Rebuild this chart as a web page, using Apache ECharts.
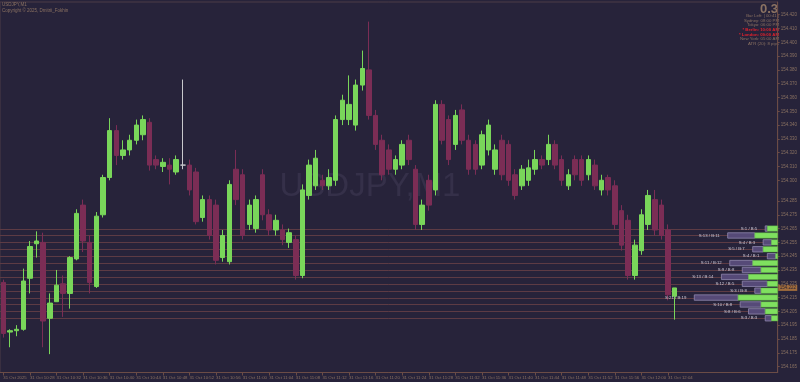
<!DOCTYPE html>
<html>
<head>
<meta charset="utf-8">
<script src="https://cdn.jsdelivr.net/npm/echarts@6/dist/echarts.min.js"></script>
<style>html,body{margin:0;padding:0;background:#27233a;}#c{width:800px;height:382px;}</style>
</head>
<body>
<div id="c"></div>
<script>
// ---- data ----
const opens = [154.226,154.190,154.191,154.192,154.229,154.254,154.255,154.200,154.212,154.225,154.218,154.243,154.282,154.255,154.223,154.275,154.302,154.336,154.318,154.322,154.329,154.333,154.342,154.315,154.310,154.311,154.306,154.311,154.311,154.306,154.273,154.286,154.282,154.244,154.241,154.308,154.304,154.268,154.265,154.304,154.275,154.264,154.264,154.255,154.257,154.231,154.289,154.296,154.300,154.296,154.300,154.344,154.344,154.340,154.369,154.380,154.347,154.329,154.322,154.308,154.311,154.329,154.308,154.268,154.300,154.293,154.355,154.344,154.326,154.351,154.329,154.326,154.311,154.322,154.308,154.329,154.326,154.304,154.296,154.300,154.308,154.315,154.315,154.326,154.315,154.296,154.315,154.315,154.304,154.311,154.293,154.302,154.296,154.278,154.271,154.231,154.249,154.268,154.286,154.282,154.264,154.216];
const closes = [154.189,154.191,154.192,154.227,154.252,154.256,154.198,154.211,154.224,154.218,154.244,154.276,154.256,154.226,154.274,154.302,154.336,154.318,154.322,154.329,154.340,154.344,154.311,154.311,154.313,154.308,154.315,154.311,154.293,154.270,154.286,154.260,154.242,154.260,154.297,154.286,154.260,154.282,154.286,154.275,154.264,154.271,154.257,154.262,154.231,154.293,154.311,154.316,154.296,154.302,154.344,154.358,154.355,154.369,154.381,154.347,154.326,154.304,154.308,154.315,154.326,154.315,154.268,154.282,154.282,154.355,154.329,154.315,154.347,154.329,154.308,154.308,154.333,154.340,154.322,154.304,154.300,154.289,154.308,154.309,154.315,154.311,154.326,154.311,154.300,154.304,154.304,154.300,154.315,154.296,154.300,154.293,154.268,154.253,154.231,154.253,154.275,154.289,154.264,154.260,154.217,154.222];
const lows = [154.186,154.179,154.187,154.191,154.218,154.244,154.179,154.174,154.212,154.201,154.207,154.242,154.248,154.218,154.222,154.273,154.300,154.311,154.315,154.318,154.326,154.329,154.307,154.308,154.306,154.297,154.304,154.308,154.289,154.268,154.270,154.257,154.239,154.241,154.239,154.282,154.257,154.264,154.262,154.271,154.260,154.260,154.253,154.251,154.228,154.229,154.286,154.293,154.293,154.293,154.296,154.340,154.340,154.336,154.365,154.344,154.322,154.300,154.304,154.304,154.308,154.311,154.264,154.264,154.278,154.289,154.326,154.311,154.322,154.326,154.304,154.304,154.308,154.318,154.304,154.300,154.296,154.286,154.293,154.296,154.304,154.308,154.311,154.308,154.296,154.293,154.300,154.296,154.300,154.293,154.289,154.289,154.264,154.249,154.228,154.228,154.246,154.264,154.260,154.257,154.213,154.199];
const highs = [154.228,154.192,154.195,154.236,154.256,154.263,154.262,154.218,154.235,154.231,154.245,154.279,154.286,154.260,154.277,154.304,154.345,154.340,154.329,154.333,154.344,154.347,154.345,154.318,154.316,154.316,154.318,154.373,154.315,154.309,154.289,154.289,154.286,154.264,154.300,154.322,154.308,154.286,154.289,154.308,154.279,154.275,154.268,154.265,154.260,154.297,154.315,154.322,154.304,154.308,154.347,154.362,154.376,154.373,154.394,154.415,154.351,154.333,154.326,154.318,154.329,154.333,154.311,154.286,154.304,154.358,154.358,154.347,154.351,154.355,154.333,154.329,154.336,154.344,154.326,154.333,154.329,154.308,154.311,154.315,154.322,154.318,154.333,154.329,154.318,154.308,154.318,154.318,154.318,154.315,154.304,154.304,154.300,154.282,154.275,154.257,154.279,154.293,154.293,154.286,154.268,154.222];

const levelPrices = [154.265,154.260,154.255,154.250,154.245,154.240,154.235,154.230,154.225,154.220,154.215,154.210,154.205,154.200];
const sells = [1,13,4,5,4,11,9,13,12,3,21,10,8,3];
const buys  = [5,11,3,7,1,12,8,14,5,8,19,8,6,3];

const yTickValues = [154.420,154.410,154.400,154.390,154.380,154.370,154.360,154.350,154.340,154.330,154.320,154.310,154.300,154.285,154.275,154.265,154.255,154.245,154.235,154.225,154.215,154.205,154.195,154.185,154.175,154.165];

const startMinute = 10*60+24;
const barCount = opens.length;
const slotCount = 117;
const pad = n => (n<10?'0':'')+n;
const times = [];
for (let i=0;i<slotCount;i++){ const m = startMinute+i; times.push(pad(Math.floor(m/60))+':'+pad(m%60)); }
const infoLines = [
  {t:'Bar Left: | 00:41 |', red:false},
  {t:'Sydney: 08:00 PM', red:false},
  {t:'Tokyo: 06:00 PM', red:false},
  {t:'* Berlin: 10:00 AM', red:true},
  {t:'* London: 09:00 AM', red:true},
  {t:'New York: 05:00 AM', red:false},
  {t:'ATR (20): 8 pips', red:false}
];

// ---- chart ----
const UP = '#79d65a', DOWN = '#7b2d55', AX = '#6b4c46', TXT = '#8b7262';
const VOL_MAX = 372.8;
const candles = opens.map((o,i)=>[o, closes[i], lows[i], highs[i]]);
const profile = levelPrices.map((p,i)=>[sells[i], buys[i], p]);
const lastClose = closes[closes.length-1];
const showIdx = (idx)=> idx%4===0 && idx<barCount;

const chart = echarts.init(document.getElementById('c'), null, {renderer:'canvas'});
const graphics = [
  {type:'text', left:2, top:2, style:{text:'USDJPY,M1', fontSize:4.5, fill:TXT, fontFamily:'Liberation Sans'}},
  {type:'text', left:2, top:8, style:{text:'Copyright © 2025, Dmitrii_Fokhin', fontSize:4.5, fill:TXT, fontFamily:'Liberation Sans'}},
  {type:'text', x:370, y:187, z:0, style:{text:'USDJPY,M1', fontSize:33, fill:'#353049', align:'center', verticalAlign:'middle', fontFamily:'Liberation Sans'}},
  {type:'text', x:778, y:3, style:{text:'0.3', fontSize:13, fontWeight:'bold', fill:TXT, align:'right', verticalAlign:'top', fontFamily:'Liberation Sans'}}
];
infoLines.forEach((l,i)=>{
  graphics.push({type:'text', x:779, y:15.7+i*4.67, style:{text:l.t, fontSize:4.3, fontWeight: l.red?'bold':'normal', fill: l.red?'#e3222c':TXT, align:'right', verticalAlign:'middle', fontFamily:'Liberation Sans'}});
});

chart.setOption({
  backgroundColor:'#27233a',
  animation:false,
  grid:{left:-1.8, right:19, top:2, bottom:9.5, show:true, borderColor:'#4d3c46', borderWidth:1},
  xAxis:[{
    type:'category', data:times, boundaryGap:true,
    axisLine:{show:true, lineStyle:{color:AX}},
    axisTick:{show:true, alignWithLabel:true, interval:(idx)=>showIdx(idx), length:3, lineStyle:{color:AX}},
    axisLabel:{show:true, interval:(idx)=>showIdx(idx), align:'left', fontSize:4.3, color:TXT, margin:3, fontFamily:'Liberation Sans',
      formatter:(v,idx)=> idx===0 ? '31 Oct 2025' : '31 Oct '+v},
    splitLine:{show:false}
  },{
    type:'value', gridIndex:0, min:0, max:VOL_MAX, inverse:true, show:false
  }],
  yAxis:[{
    type:'value', position:'right', min:154.1607, max:154.4292, scale:true,
    axisLine:{show:true, lineStyle:{color:AX}},
    axisTick:{show:true, customValues:yTickValues, length:2, lineStyle:{color:AX}},
    axisLabel:{show:true, customValues:yTickValues, formatter:v=>v.toFixed(3), fontSize:4.5, color:TXT, margin:3, fontFamily:'Liberation Sans'},
    splitLine:{show:false}
  }],
  graphic:graphics,
  series:[{
    // level lines across the chart
    type:'custom', xAxisIndex:1, yAxisIndex:0, z:1, data:levelPrices.map(p=>[VOL_MAX, 0, p]), encode:{x:[0,1], y:2}, clip:false,
    renderItem:(params, api)=>{
      const p = api.value(2);
      const a = api.coord([VOL_MAX, p]), b = api.coord([0, p]);
      const y = Math.round(a[1]) + 0.5;
      return {type:'line', shape:{x1:a[0], y1:y, x2:b[0], y2:y}, style:{stroke:'#5d3b44', lineWidth:1}};
    }
  },{
    type:'candlestick', data:candles, barWidth:5, z:2,
    itemStyle:{color:UP, color0:DOWN, borderColor:UP, borderColor0:DOWN, borderColorDoji:'#c8c8cc', borderWidth:1}
  },{
    type:'custom', xAxisIndex:1, yAxisIndex:0, z:3, data:profile, encode:{x:[0,1], y:2}, clip:false,
    renderItem:(params, api)=>{
      const s = api.value(0), b = api.value(1), p = api.value(2);
      const x0 = api.coord([s+b, p])[0];
      const xm = api.coord([b, p])[0];
      const e = api.coord([0, p]);
      const x1 = e[0], y = e[1], h = 5.4;
      return {type:'group', children:[
        {type:'rect', shape:{x:x0, y:y-h/2, width:xm-x0, height:h}, style:{fill:'#564a78', stroke:'#9088ae', lineWidth:0.8}},
        {type:'rect', shape:{x:xm, y:y-h/2, width:x1-xm, height:h}, style:{fill:'#7fe05f', stroke:'#5fb046', lineWidth:0.5}},
        {type:'text', style:{text:'S:'+s+' / B:'+b, x:x0-8, y:y, align:'right', verticalAlign:'middle', fontSize:4.3, fill:'#cbc8d6', fontFamily:'Liberation Sans'}}
      ]};
    }
  },{
    // current price tag on the price axis
    type:'custom', xAxisIndex:1, yAxisIndex:0, z:4, data:[[0, 0, lastClose]], encode:{x:[0,1], y:2}, clip:false,
    renderItem:(params, api)=>{
      const e = api.coord([0, api.value(2)]);
      return {type:'group', children:[
        {type:'rect', shape:{x:e[0]+0.5, y:e[1]-3, width:19, height:6}, style:{fill:'#a06c3c'}},
        {type:'text', style:{text:api.value(2).toFixed(3), x:e[0]+2, y:e[1], align:'left', verticalAlign:'middle', fontSize:4.5, fill:'#2a2333', fontFamily:'Liberation Sans'}}
      ]};
    }
  }]
});
</script>
</body>
</html>
